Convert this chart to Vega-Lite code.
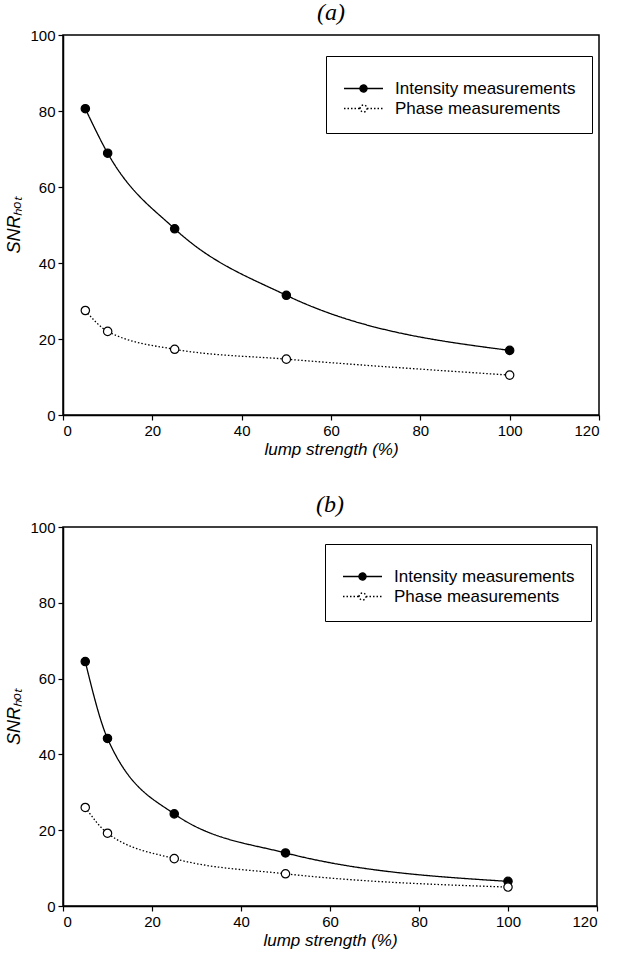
{
  "$schema": "https://vega.github.io/schema/vega-lite/v6.json",
  "padding": {"left": 5, "top": 0, "right": 5, "bottom": 5},
  "background": "white",
  "datasets": {
    "pts": [
      {"panel": "a", "series": "Intensity measurements", "x": 5, "y": 80.6},
      {"panel": "a", "series": "Intensity measurements", "x": 10, "y": 68.9},
      {"panel": "a", "series": "Intensity measurements", "x": 25, "y": 49.0},
      {"panel": "a", "series": "Intensity measurements", "x": 50, "y": 31.5},
      {"panel": "a", "series": "Intensity measurements", "x": 100, "y": 17.0},
      {"panel": "a", "series": "Phase measurements", "x": 5, "y": 27.5},
      {"panel": "a", "series": "Phase measurements", "x": 10, "y": 22.0},
      {"panel": "a", "series": "Phase measurements", "x": 25, "y": 17.3},
      {"panel": "a", "series": "Phase measurements", "x": 50, "y": 14.7},
      {"panel": "a", "series": "Phase measurements", "x": 100, "y": 10.5},
      {"panel": "b", "series": "Intensity measurements", "x": 5, "y": 64.5},
      {"panel": "b", "series": "Intensity measurements", "x": 10, "y": 44.2},
      {"panel": "b", "series": "Intensity measurements", "x": 25, "y": 24.3},
      {"panel": "b", "series": "Intensity measurements", "x": 50, "y": 14.0},
      {"panel": "b", "series": "Intensity measurements", "x": 100, "y": 6.5},
      {"panel": "b", "series": "Phase measurements", "x": 5, "y": 26.0},
      {"panel": "b", "series": "Phase measurements", "x": 10, "y": 19.2},
      {"panel": "b", "series": "Phase measurements", "x": 25, "y": 12.5},
      {"panel": "b", "series": "Phase measurements", "x": 50, "y": 8.5},
      {"panel": "b", "series": "Phase measurements", "x": 100, "y": 5.0}
    ]
  },
  "config": {
    "view": {"stroke": "black", "strokeWidth": 1.5},
    "font": "Liberation Sans",
    "axis": {
      "grid": false,
      "domainColor": "black",
      "domainWidth": 1.5,
      "tickColor": "black",
      "tickWidth": 1.2,
      "tickSize": 5,
      "labelPadding": 3,
      "labelFont": "Liberation Sans",
      "labelFontSize": 15,
      "labelColor": "black",
      "titleFont": "Liberation Sans",
      "titleFontSize": 17,
      "titleFontStyle": "italic",
      "titleFontWeight": "normal",
      "titleColor": "black"
    },
    "axisY": {"titleFontSize": 18, "titlePadding": 6},
    "axisX": {"titlePadding": 3},
    "title": {"font": "Liberation Serif", "fontSize": 24, "fontStyle": "italic", "fontWeight": "normal", "color": "black", "offset": 3},
    "legend": {
      "strokeColor": "black",
      "padding": 16,
      "labelFont": "Liberation Sans",
      "labelFontSize": 17,
      "labelLimit": 400,
      "labelColor": "black",
      "labelOffset": 36,
      "rowPadding": 2,
      "symbolType": "M-1,0H1.46M2.54,0H5M1.46,0A0.54,0.54 0 1,1 2.54,0A0.54,0.54 0 1,1 1.46,0Z",
      "symbolSize": 169,
      "symbolStrokeColor": "black",
      "symbolStrokeWidth": 1.4,
      "titleFontSize": 6,
      "titlePadding": 2
    }
  },
  "vconcat": [
    {
      "title": "(a)",
      "width": 536,
      "height": 380,
      "data": {"name": "pts"},
      "transform": [{"filter": "datum.panel === 'a'"}],
      "encoding": {
        "x": {"field": "x", "type": "quantitative", "scale": {"domain": [0, 120], "nice": false}, "axis": {"values": [0, 20, 40, 60, 80, 100, 120], "title": "lump strength (%)"}},
        "y": {"field": "y", "type": "quantitative", "scale": {"domain": [0, 100], "nice": false}, "axis": {"values": [0, 20, 40, 60, 80, 100], "title": "SNRₕₒₜ"}}
      },
      "layer": [
        {
          "mark": {"type": "line", "interpolate": "monotone", "stroke": "black", "strokeWidth": 1.3},
          "encoding": {
            "detail": {"field": "series"},
            "strokeDash": {"field": "series", "type": "nominal", "scale": {"domain": ["Intensity measurements", "Phase measurements"], "range": [[1, 0], [1.5, 2]]}, "legend": {"title": " ", "orient": "none", "legendX": 263, "legendY": 21}}
          }
        },
        {
          "mark": {"type": "point", "shape": "circle", "size": 70, "stroke": "black", "strokeWidth": 1.2, "opacity": 1},
          "encoding": {
            "fill": {"field": "series", "type": "nominal", "scale": {"domain": ["Intensity measurements", "Phase measurements"], "range": ["black", "white"]}, "legend": {"title": " ", "orient": "none", "legendX": 263, "legendY": 21}}
          }
        }
      ]
    },
    {
      "title": "(b)",
      "width": 534,
      "height": 379,
      "data": {"name": "pts"},
      "transform": [{"filter": "datum.panel === 'b'"}],
      "encoding": {
        "x": {"field": "x", "type": "quantitative", "scale": {"domain": [0, 120], "nice": false}, "axis": {"values": [0, 20, 40, 60, 80, 100, 120], "title": "lump strength (%)"}},
        "y": {"field": "y", "type": "quantitative", "scale": {"domain": [0, 100], "nice": false}, "axis": {"values": [0, 20, 40, 60, 80, 100], "title": "SNRₕₒₜ"}}
      },
      "layer": [
        {
          "mark": {"type": "line", "interpolate": "monotone", "stroke": "black", "strokeWidth": 1.3},
          "encoding": {
            "detail": {"field": "series"},
            "strokeDash": {"field": "series", "type": "nominal", "scale": {"domain": ["Intensity measurements", "Phase measurements"], "range": [[1, 0], [1.5, 2]]}, "legend": {"title": " ", "orient": "none", "legendX": 262, "legendY": 17}}
          }
        },
        {
          "mark": {"type": "point", "shape": "circle", "size": 70, "stroke": "black", "strokeWidth": 1.2, "opacity": 1},
          "encoding": {
            "fill": {"field": "series", "type": "nominal", "scale": {"domain": ["Intensity measurements", "Phase measurements"], "range": ["black", "white"]}, "legend": {"title": " ", "orient": "none", "legendX": 262, "legendY": 17}}
          }
        }
      ]
    }
  ],
  "resolve": {"scale": {"strokeDash": "independent", "fill": "independent"}, "legend": {"strokeDash": "independent", "fill": "independent"}},
  "spacing": 34
}
